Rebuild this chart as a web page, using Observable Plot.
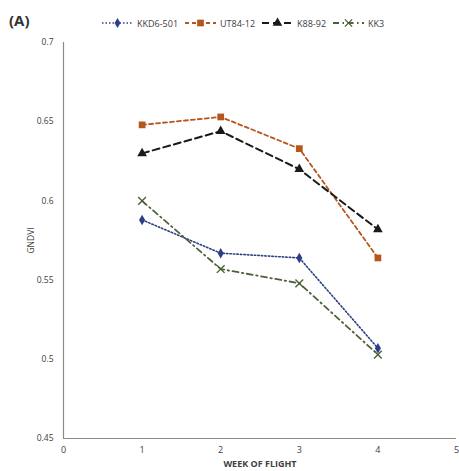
<!DOCTYPE html>
<html>
<head>
<meta charset="utf-8">
<script src="https://cdn.jsdelivr.net/npm/d3@7"></script>
<script src="https://cdn.jsdelivr.net/npm/@observablehq/plot@0.6"></script>
<style>
  html, body { margin: 0; padding: 0; background: #fff; }
  #wrap { position: relative; width: 459px; height: 471px; font-family: "Open Sans", "Noto Sans", sans-serif; color: #404040; }
  #panel { position: absolute; left: 9px; top: 10px; font-size: 15px; font-weight: bold; color: #333; }
  #legend { position: absolute; left: 101px; top: 16px; height: 14px; display: flex; align-items: center; font-size: 9px; color: #404040; white-space: nowrap; }
  #legend .item { display: flex; align-items: center; margin-right: 6px; }
  #legend svg { display: block; margin-right: 3px; }
  #chart { position: absolute; left: 0; top: 32px; }
  #chart svg [aria-label="x-axis label"] text { font-weight: bold; }
</style>
</head>
<body>
<div id="wrap">
  <div id="panel">(A)</div>
  <div id="legend"></div>
  <div id="chart"></div>
</div>
<script>
const weeks = [1, 2, 3, 4];
const seriesNames = ["KKD6-501", "UT84-12", "K88-92", "KK3"];
const kkd6_501 = [0.588, 0.567, 0.564, 0.507];
const ut84_12 = [0.648, 0.653, 0.633, 0.564];
const k88_92 = [0.630, 0.644, 0.620, 0.582];
const kk3 = [0.600, 0.557, 0.548, 0.503];
const xTicks = [0, 1, 2, 3, 4, 5];
const yTicks = [0.45, 0.5, 0.55, 0.6, 0.65, 0.7];

const seriesValues = [kkd6_501, ut84_12, k88_92, kk3];
const styles = {
  "KKD6-501": {color: "#2b3f86", dash: "1.5,2", width: 1.6, symbol: "diamond", r: 3.2, filled: true},
  "UT84-12": {color: "#b5561c", dash: "4,3", width: 1.8, symbol: "square", r: 3.8, filled: true},
  "K88-92": {color: "#1a1a1a", dash: "7,4", width: 2, symbol: "triangle", r: 3.6, filled: true},
  "KK3": {color: "#4d6138", dash: "6,3.5,1.5,3.5", width: 1.8, symbol: "times", r: 3.6, filled: false}
};

const data = [];
seriesNames.forEach((name, i) => {
  weeks.forEach((w, j) => data.push({series: name, week: w, value: seriesValues[i][j]}));
});

const marks = [
  Plot.ruleX([0], {stroke: "#8a8a8a", strokeWidth: 1.2}),
  Plot.ruleY([0.45], {stroke: "#8a8a8a", strokeWidth: 1.2}),
  Plot.axisX({ticks: xTicks, tickSize: 0, tickPadding: 8, fontSize: 9, tickFormat: d => String(d), label: "WEEK OF FLIGHT", labelAnchor: "center", labelOffset: 28, labelArrow: false}),
  Plot.axisY({ticks: yTicks, tickSize: 0, tickPadding: 10, fontSize: 8.5, tickFormat: d => String(+d.toFixed(2)), label: "GNDVI", labelAnchor: "center", labelOffset: 36, labelArrow: false})
];
seriesNames.forEach(name => {
  const s = styles[name];
  const d = data.filter(r => r.series === name);
  marks.push(Plot.line(d, {x: "week", y: "value", stroke: s.color, strokeWidth: s.width, strokeDasharray: s.dash}));
  marks.push(Plot.dot(d, s.filled
    ? {x: "week", y: "value", symbol: () => s.symbol, r: s.r, fill: s.color, stroke: "none"}
    : {x: "week", y: "value", symbol: () => s.symbol, r: s.r, stroke: s.color, strokeWidth: 1.4, fill: "none"}));
});

const chart = Plot.plot({
  width: 459,
  height: 439,
  marginTop: 10,
  marginBottom: 33,
  marginLeft: 63,
  marginRight: 3,
  style: {fontFamily: "'Open Sans', 'Noto Sans', sans-serif", color: "#404040", background: "white", overflow: "visible"},
  x: {domain: [0, 5], axis: null},
  y: {domain: [0.45, 0.7], axis: null},
  symbol: {type: "identity"},
  marks
});
document.getElementById("chart").appendChild(chart);

// legend
const legend = document.getElementById("legend");
const symPaths = {
  diamond: d3.symbol(d3.symbolDiamond, 30)(),
  square: d3.symbol(d3.symbolSquare, 45)(),
  triangle: d3.symbol(d3.symbolTriangle, 40)(),
  times: d3.symbol(d3.symbolTimes, 36)()
};
seriesNames.forEach(name => {
  const s = styles[name];
  const item = document.createElement("div");
  item.className = "item";
  const ns = "http://www.w3.org/2000/svg";
  const svg = document.createElementNS(ns, "svg");
  svg.setAttribute("width", 33);
  svg.setAttribute("height", 12);
  const line = document.createElementNS(ns, "line");
  line.setAttribute("x1", 1); line.setAttribute("x2", 32);
  line.setAttribute("y1", 6); line.setAttribute("y2", 6);
  line.setAttribute("stroke", s.color);
  line.setAttribute("stroke-width", s.width);
  line.setAttribute("stroke-dasharray", s.dash);
  svg.appendChild(line);
  const p = document.createElementNS(ns, "path");
  p.setAttribute("d", symPaths[s.symbol]);
  p.setAttribute("transform", "translate(16.5,6)");
  if (s.filled) { p.setAttribute("fill", s.color); }
  else { p.setAttribute("fill", "none"); p.setAttribute("stroke", s.color); p.setAttribute("stroke-width", 1.3); }
  svg.appendChild(p);
  item.appendChild(svg);
  const t = document.createElement("span");
  t.textContent = name;
  item.appendChild(t);
  legend.appendChild(item);
});
</script>
</body>
</html>
